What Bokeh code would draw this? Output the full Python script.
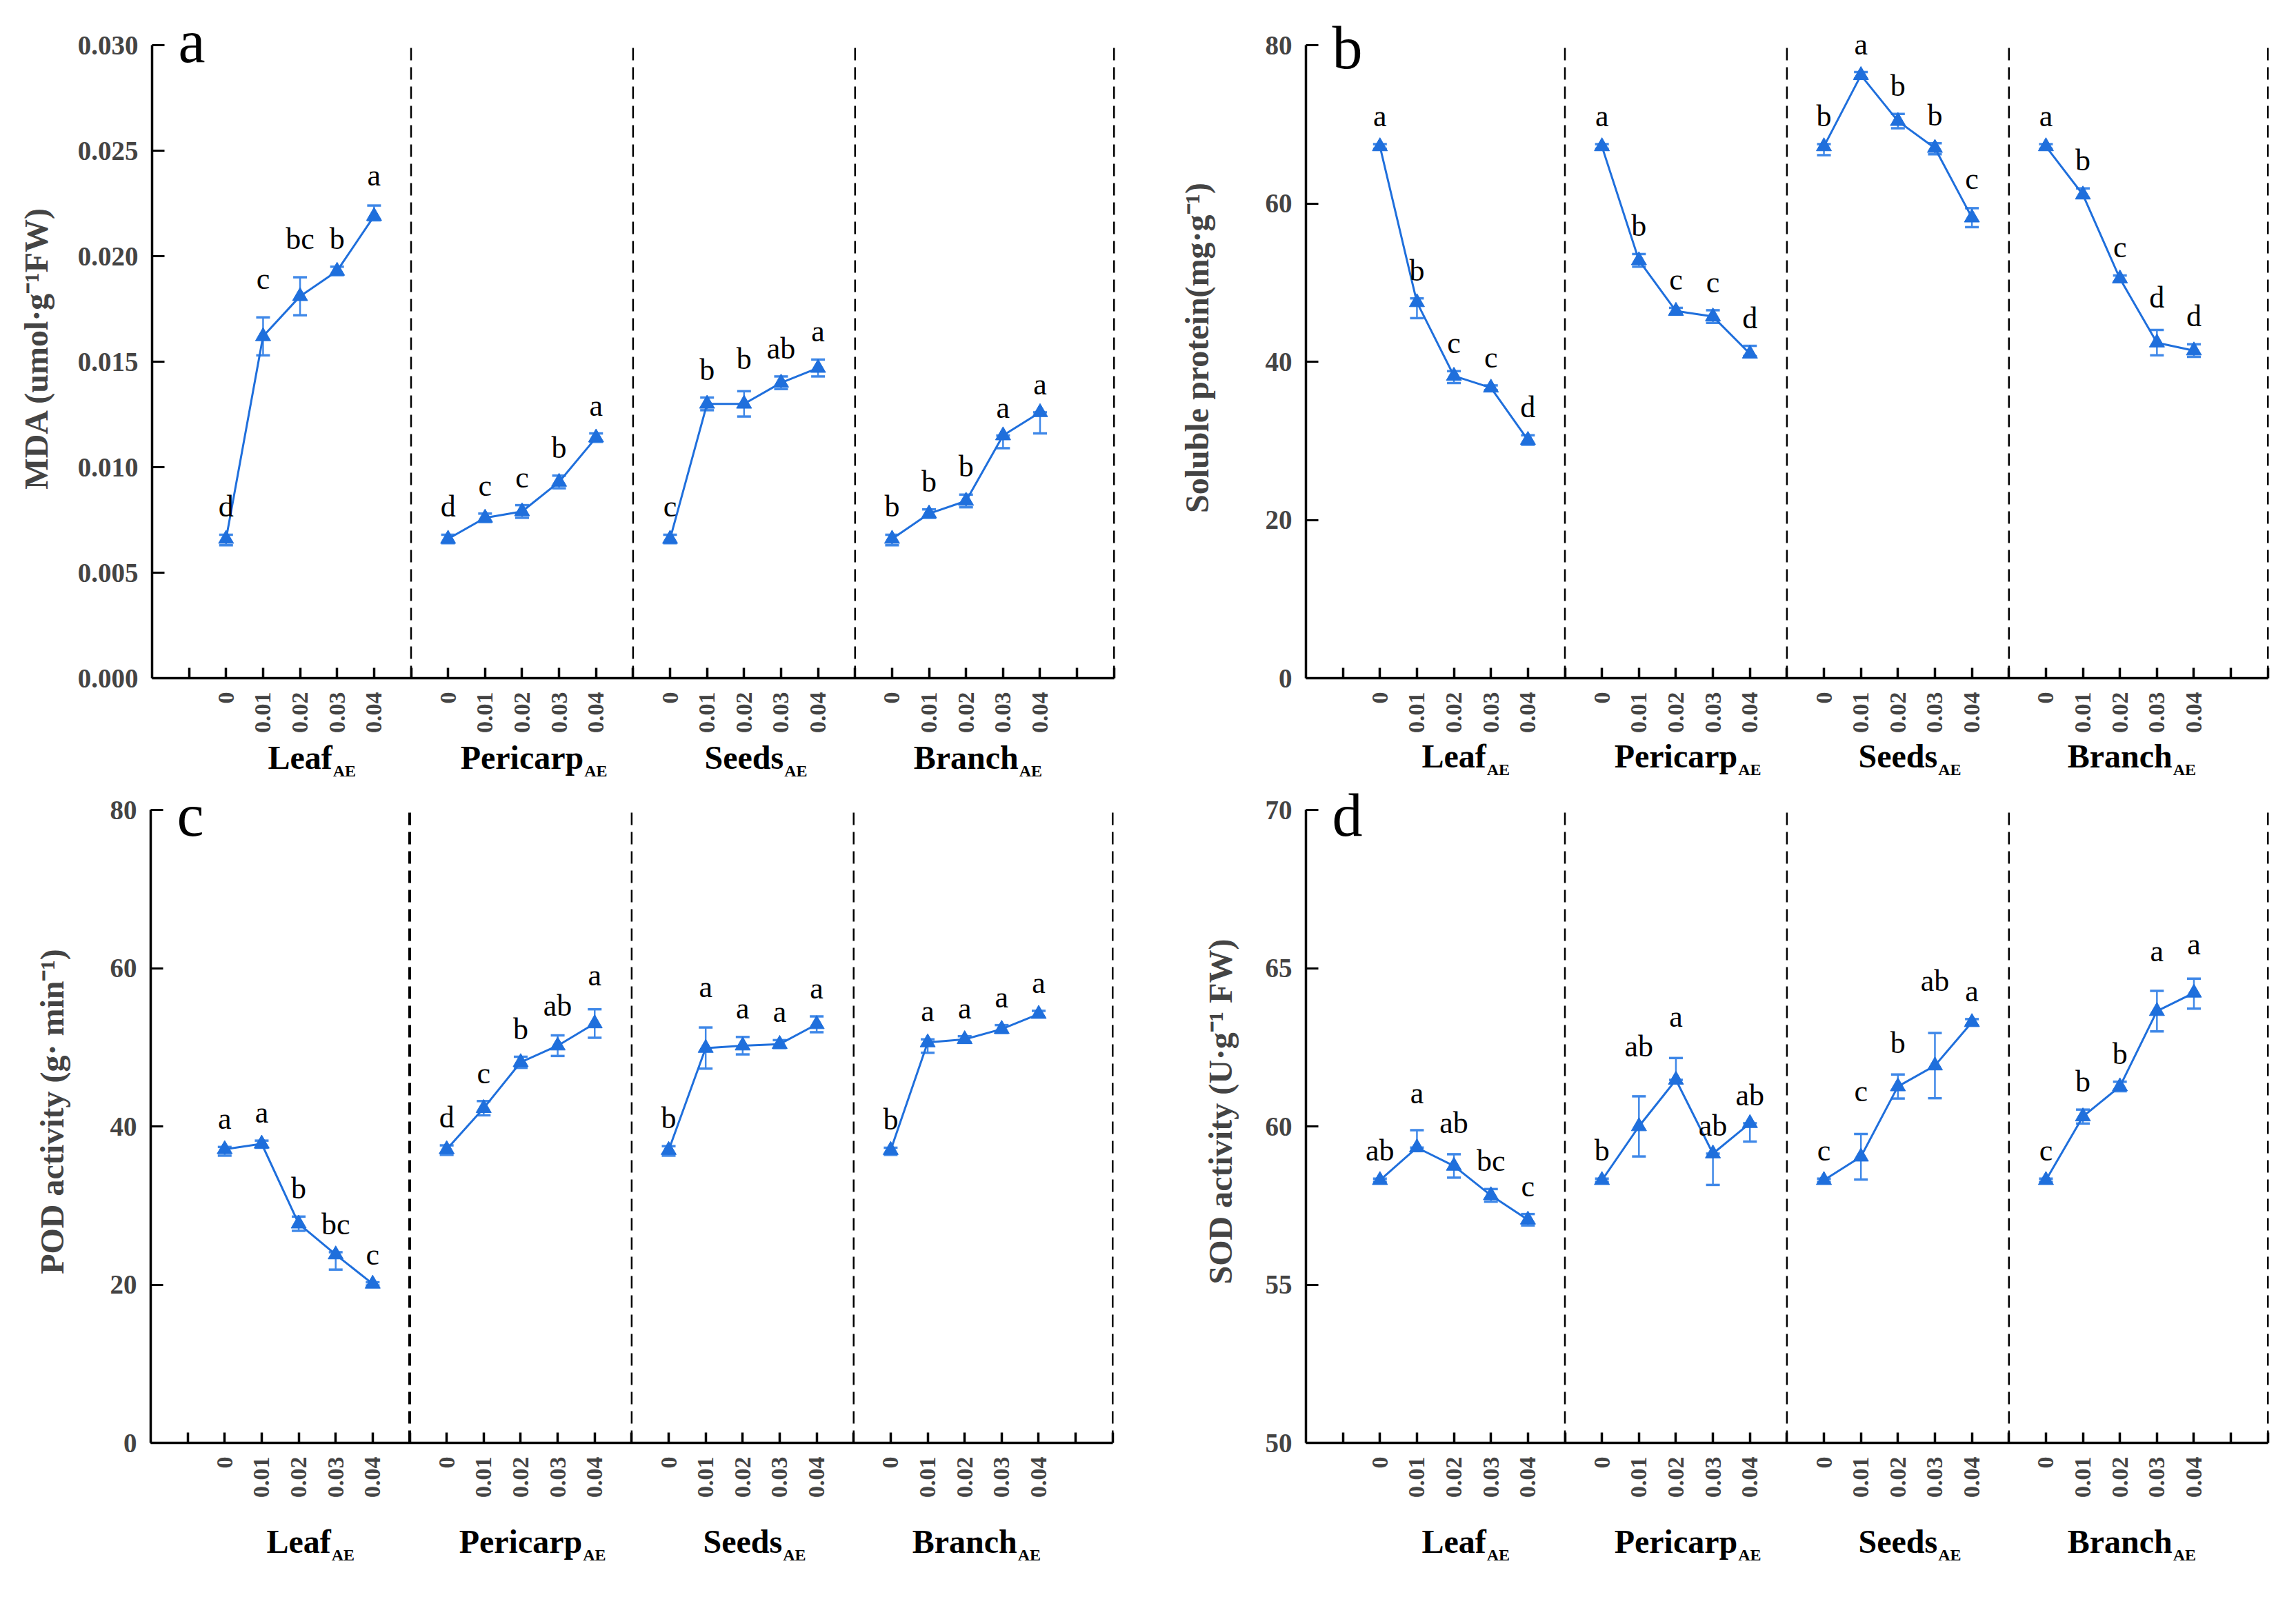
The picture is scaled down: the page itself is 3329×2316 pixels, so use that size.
import math
from bokeh.plotting import figure
from bokeh.layouts import column, row
from bokeh.models import (ColumnDataSource, FixedTicker, Label, LabelSet,
                          Whisker, TeeHead, Range1d)
from bokeh.core.properties import value
from bokeh.embed import file_html
from bokeh.resources import INLINE

# ---------------- data ----------------
doses = ["0", "0.01", "0.02", "0.03", "0.04"]
organs = ["Leaf", "Pericarp", "Seeds", "Branch"]
organ_sub = "AE"
separators = [7, 13, 19, 26]

# order: Leaf(5), Pericarp(5), Seeds(5), Branch(5)
mda = [0.0066, 0.0162, 0.0181, 0.0193, 0.0219,
       0.0066, 0.0076, 0.0079, 0.0093, 0.0114,
       0.0066, 0.0130, 0.0130, 0.0140, 0.0147,
       0.0066, 0.0078, 0.0084, 0.0115, 0.0126]
mda_up = [0.0002, 0.0009, 0.0009, 0.0002, 0.0005,
          0.0002, 0.0002, 0.0003, 0.0003, 0.0002,
          0.0002, 0.0003, 0.0006, 0.0003, 0.0004,
          0.0002, 0.0002, 0.0003, 0.0000, 0.0000]
mda_down = [0.0003, 0.0009, 0.0009, 0.0002, 0.0002,
            0.0002, 0.0002, 0.0003, 0.0003, 0.0002,
            0.0002, 0.0003, 0.0006, 0.0003, 0.0004,
            0.0003, 0.0002, 0.0003, 0.0006, 0.0010]
mda_sig = ["d", "c", "bc", "b", "a",
           "d", "c", "c", "b", "a",
           "c", "b", "b", "ab", "a",
           "b", "b", "b", "a", "a"]

protein = [67.2, 47.5, 38.2, 36.7, 30.1,
           67.2, 52.8, 46.4, 45.7, 41.0,
           67.2, 76.2, 70.4, 67.0, 58.2,
           67.2, 61.1, 50.5, 42.4, 41.4]
protein_up = [0.3, 0.5, 0.6, 0.3, 0.6,
              0.3, 0.8, 0.4, 0.8, 1.0,
              0.3, 0.4, 0.9, 0.6, 1.2,
              0.3, 0.8, 0.4, 1.6, 0.8]
protein_down = [0.3, 2.0, 0.9, 0.3, 0.6,
                0.3, 0.8, 0.4, 0.8, 0.3,
                1.1, 0.4, 0.9, 0.8, 1.2,
                0.3, 0.4, 0.4, 1.6, 0.8]
protein_sig = ["a", "b", "c", "c", "d",
               "a", "b", "c", "c", "d",
               "b", "a", "b", "b", "c",
               "a", "b", "c", "d", "d"]

pod = [37.1, 37.8, 27.7, 23.8, 20.1,
       37.1, 42.3, 48.1, 50.2, 53.0,
       37.0, 49.9, 50.2, 50.4, 52.9,
       37.0, 50.6, 51.0, 52.3, 54.2]
pod_up = [0.3, 0.4, 0.9, 0.3, 0.2,
          0.5, 0.9, 0.7, 1.3, 1.8,
          0.5, 2.6, 1.1, 0.5, 1.0,
          0.3, 0.4, 0.4, 0.5, 0.4]
pod_down = [0.8, 0.5, 0.9, 1.9, 0.2,
            0.7, 0.9, 0.7, 1.3, 1.8,
            0.7, 2.6, 1.1, 0.5, 1.0,
            0.6, 1.3, 0.4, 0.5, 0.4]
pod_sig = ["a", "a", "b", "bc", "c",
           "d", "c", "b", "ab", "a",
           "b", "a", "a", "a", "a",
           "b", "a", "a", "a", "a"]

sod = [58.30, 59.33, 58.75, 57.82, 57.05,
       58.30, 60.00, 61.47, 59.14, 60.10,
       58.30, 59.04, 61.26, 61.92, 63.29,
       58.30, 60.31, 61.26, 63.64, 64.22]
sod_up = [0.05, 0.55, 0.37, 0.20, 0.18,
          0.05, 0.95, 0.69, 0.00, 0.00,
          0.05, 0.72, 0.38, 1.03, 0.10,
          0.05, 0.22, 0.15, 0.64, 0.45]
sod_down = [0.05, 0.00, 0.37, 0.20, 0.18,
            0.05, 0.95, 0.00, 0.99, 0.58,
            0.05, 0.72, 0.38, 1.03, 0.10,
            0.05, 0.22, 0.15, 0.64, 0.50]
sod_sig = ["ab", "a", "ab", "bc", "c",
           "b", "ab", "a", "ab", "ab",
           "c", "c", "b", "ab", "a",
           "c", "b", "b", "a", "a"]

mda_ticks = [0.0, 0.005, 0.010, 0.015, 0.020, 0.025, 0.030]
protein_ticks = [0, 20, 40, 60, 80]
pod_ticks = [0, 20, 40, 60, 80]
sod_ticks = [50, 55, 60, 65, 70]

# ---------------- style ----------------
BLUE = "#1f6fdc"
CAPC = "#3f88e8"
FONT = "Liberation Serif"
XMAX = 26.06
FRAME_W = 1398
PLOT_H = 918          # axis height in px (from lowest to highest tick)
BOTTOM = 84           # room for the rotated dose labels

# approx advance widths (em) of Liberation Serif Bold
BW = {"L": .667, "e": .444, "a": .5, "f": .333, "P": .611, "r": .444, "i": .278,
      "c": .444, "p": .556, "S": .556, "d": .556, "s": .389, "B": .667, "n": .556,
      "h": .556}


def text_w(s, size):
    return sum(BW.get(ch, .5) for ch in s) * size


def clean(p):
    p.background_fill_color = "white"
    p.border_fill_color = "white"
    p.outline_line_color = None
    p.xgrid.visible = False
    p.ygrid.visible = False


def make_panel(vals, up, down, sig, yticks, yfmt, ylabel, letter,
               width, bl, top, pad, label_standoff, letter_dy, thick_first=False):
    ylo, yhi = yticks[0], yticks[-1]
    ppu = PLOT_H / (yhi - ylo)
    frame_h = PLOT_H + pad
    height = top + frame_h + BOTTOM
    br = width - bl - FRAME_W
    p = figure(width=width, height=height, x_range=Range1d(0, XMAX),
               y_range=Range1d(ylo, yhi + pad / ppu), output_backend="svg",
               toolbar_location=None, min_border_left=bl, min_border_right=br,
               min_border_top=top, min_border_bottom=BOTTOM)
    clean(p)

    # x axis
    xt = list(range(1, 27))
    overrides = {t: "" for t in xt}
    for g in range(4):
        for d in range(5):
            overrides[6 * g + 2 + d] = doses[d]
    p.xaxis.bounds = (0, 26)
    p.xaxis.ticker = FixedTicker(ticks=xt)
    p.xaxis.major_label_overrides = overrides
    p.xaxis.major_label_orientation = math.pi / 2
    p.xaxis.major_label_text_font = FONT
    p.xaxis.major_label_text_font_style = "bold"
    p.xaxis.major_label_text_font_size = "34px"
    p.xaxis.major_label_standoff = 20
    p.xaxis.major_tick_in = 15
    p.xaxis.major_tick_out = 0
    p.xaxis.minor_tick_line_color = None
    p.xaxis.axis_line_width = 3.5
    p.xaxis.major_tick_line_width = 3.5
    p.xaxis.axis_line_color = "black"

    # y axis
    p.yaxis.bounds = (ylo, yhi)
    p.yaxis.ticker = FixedTicker(ticks=yticks)
    p.yaxis.major_label_overrides = {t: yfmt.format(t) for t in yticks}
    p.yaxis.major_label_text_font = FONT
    p.yaxis.major_label_text_font_style = "bold"
    p.yaxis.major_label_text_font_size = "39px"
    p.yaxis.major_label_standoff = 20
    p.yaxis.major_tick_in = 18
    p.yaxis.major_tick_out = 0
    p.yaxis.minor_tick_line_color = None
    p.yaxis.axis_line_width = 3.5
    p.yaxis.major_tick_line_width = 3
    p.yaxis.axis_label = ylabel
    p.yaxis.axis_label_text_font = FONT
    p.yaxis.axis_label_text_font_style = "bold"
    p.yaxis.axis_label_text_font_size = "48px"
    p.yaxis.axis_label_standoff = label_standoff

    # dashed separators (from the lowest to the highest tick)
    widths = [4 if (thick_first and i == 0) else 2.5 for i in range(len(separators))]
    p.segment(x0=separators, y0=[ylo] * 4, x1=separators, y1=[yhi] * 4,
              line_color="black", line_width=widths, line_dash="18 10")

    for g in range(4):
        idx = list(range(5 * g, 5 * g + 5))
        xs = [6 * g + 2 + d for d in range(5)]
        ys = [vals[i] for i in idx]
        src = ColumnDataSource(dict(
            x=xs, y=ys,
            upper=[vals[i] + up[i] for i in idx],
            lower=[vals[i] - down[i] for i in idx],
            lab_y=[vals[i] + up[i] for i in idx],
            off=[max(up[i] * ppu, 12) + 14 for i in idx],
            sig=[sig[i] for i in idx],
        ))
        w = Whisker(source=src, base="x", upper="upper", lower="lower",
                    line_color=CAPC, line_width=2.5, level="underlay",
                    upper_head=TeeHead(size=20, line_color=CAPC, line_width=3.5),
                    lower_head=TeeHead(size=20, line_color=CAPC, line_width=3.5))
        p.add_layout(w)
        p.line("x", "y", source=src, line_color=BLUE, line_width=3)
        p.scatter("x", "y", source=src, marker="triangle", size=22,
                  fill_color=BLUE, line_color=BLUE)
        p.add_layout(LabelSet(x="x", y="lab_y", text="sig", source=src,
                              y_offset="off", text_align="center",
                              text_baseline="alphabetic",
                              text_font=value(FONT), text_font_size="44px",
                              text_color="black"))

    p.add_layout(Label(x=0, y=yhi, x_offset=38, y_offset=-letter_dy,
                       text=letter, text_align="left", text_baseline="middle",
                       text_font=FONT, text_font_size="88px", text_color="black"))
    return p


def make_label_fig(width, bl, height, base_from_top):
    br = width - bl - FRAME_W
    q = figure(width=width, height=height, x_range=Range1d(0, XMAX),
               y_range=Range1d(0, height), output_backend="svg",
               toolbar_location=None, x_axis_location=None, y_axis_location=None,
               min_border_left=bl, min_border_right=br,
               min_border_top=0, min_border_bottom=0)
    clean(q)
    ppx = FRAME_W / XMAX
    centers = [6 * g + 4 for g in range(4)]
    q.text(x=centers, y=[height - (base_from_top - 16)] * 4, text=organs,
           text_align="center", text_baseline="middle", text_font=value(FONT),
           text_font_style="bold", text_font_size="48px", text_color="black")
    sub_x = [c + (text_w(o, 48) / 2 + 1) / ppx for c, o in zip(centers, organs)]
    q.text(x=sub_x, y=[height - (base_from_top + 11 - 8)] * 4, text=[organ_sub] * 4,
           text_align="left", text_baseline="middle", text_font=value(FONT),
           text_font_style="bold", text_font_size="24px", text_color="black")
    return q


W_LEFT, W_RIGHT = 1673, 1636

pa = make_panel(mda, mda_up, mda_down, mda_sig, mda_ticks, "{:.3f}",
                "MDA (umol·g⁻¹FW)", "a", W_LEFT, 220, 25, 40, 31, -5)
pb = make_panel(protein, protein_up, protein_down, protein_sig, protein_ticks, "{:d}",
                "Soluble protein(mg·g⁻¹)", "b", W_RIGHT, 220, 25, 40, 70, 4)
pc = make_panel(pod, pod_up, pod_down, pod_sig, pod_ticks, "{:d}",
                "POD activity (g· min⁻¹)", "c", W_LEFT, 218, 0, 43, 55, 8,
                thick_first=True)
pd_ = make_panel(sod, sod_up, sod_down, sod_sig, sod_ticks, "{:d}",
                 "SOD activity (U·g⁻¹ FW)", "d", W_RIGHT, 220, 0, 43, 36, 8)

la = make_label_fig(W_LEFT, 220, 64, 47)
lb = make_label_fig(W_RIGHT, 220, 64, 45)
lc = make_label_fig(W_LEFT, 218, 124, 75)
ld = make_label_fig(W_RIGHT, 220, 124, 75)

layout = column(row(column(pa, la), column(pb, lb)),
                row(column(pc, lc), column(pd_, ld)))
open("out.html", "w").write(file_html(layout, INLINE))
